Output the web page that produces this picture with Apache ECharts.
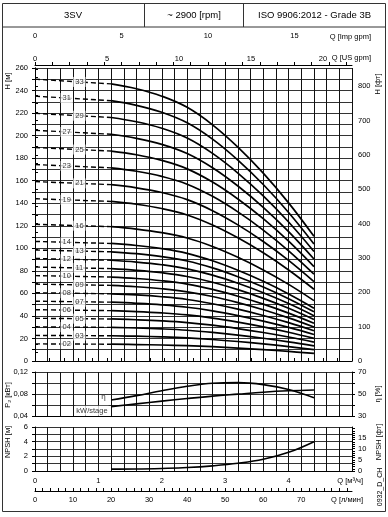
<!DOCTYPE html>
<html><head><meta charset="utf-8">
<script src="https://cdn.jsdelivr.net/npm/echarts@6/dist/echarts.min.js"></script>
<style>html,body{margin:0;padding:0;background:#fff}#c{width:388px;height:517px}</style>
</head><body><div id="c"></div>
<script>
// ---------------- data ----------------
const stageLabels = ['02','03','04','05','06','07','08','09','10','11','12','13','14','16','19','21','23','25','27','29','31','33'];
const labelQ = [0.5,0.7,0.5,0.7,0.5,0.7,0.5,0.7,0.5,0.7,0.5,0.7,0.5,0.7,0.5,0.7,0.5,0.7,0.5,0.7,0.5,0.7];
// Q [m3/h] points of the head curves; first segment (0 -> 1.2) is dashed
const headQ = [0, 1.2, 1.6, 2.0, 2.4, 2.8, 3.2, 3.6, 4.0, 4.4];
const headCurves = [
  [15.2, 14.9, 14.6, 14.2, 13.6, 12.7, 11.5, 10.1, 8.5, 6.7],
  [22.7, 22.4, 22.0, 21.4, 20.5, 19.1, 17.3, 15.2, 12.8, 10.1],
  [30.3, 29.8, 29.3, 28.5, 27.3, 25.4, 23.0, 20.2, 17.0, 13.4],
  [37.9, 37.3, 36.6, 35.6, 34.1, 31.8, 28.8, 25.3, 21.3, 16.8],
  [45.5, 44.7, 43.9, 42.7, 40.9, 38.1, 34.5, 30.3, 25.5, 20.1],
  [53.1, 52.2, 51.2, 49.8, 47.7, 44.5, 40.3, 35.4, 29.8, 23.5],
  [60.6, 59.6, 58.6, 57.0, 54.6, 50.8, 46.0, 40.4, 34.0, 26.8],
  [68.2, 67.1, 65.9, 64.1, 61.4, 57.2, 51.8, 45.5, 38.3, 30.2],
  [75.8, 74.5, 73.2, 71.2, 68.2, 63.5, 57.5, 50.5, 42.5, 33.5],
  [83.4, 82.0, 80.5, 78.3, 75.0, 69.9, 63.3, 55.6, 46.8, 36.9],
  [91.0, 89.4, 87.8, 85.4, 81.8, 76.2, 69.0, 60.6, 51.0, 40.2],
  [98.5, 96.9, 95.2, 92.6, 88.7, 82.6, 74.8, 65.7, 55.3, 43.6],
  [106.1, 104.3, 102.5, 99.7, 95.5, 88.9, 80.5, 70.7, 59.5, 46.9],
  [121.3, 119.2, 117.1, 113.9, 109.1, 101.6, 92.0, 80.8, 68.0, 53.6],
  [144.0, 141.6, 139.1, 135.3, 129.6, 120.7, 109.3, 96.0, 80.8, 63.7],
  [159.2, 156.5, 153.7, 149.5, 143.2, 133.4, 120.8, 106.1, 89.3, 70.4],
  [174.3, 171.4, 168.4, 163.8, 156.9, 146.1, 132.3, 116.2, 97.8, 77.1],
  [189.5, 186.3, 183.0, 178.0, 170.5, 158.8, 143.8, 126.3, 106.3, 83.8],
  [204.7, 201.2, 197.6, 192.2, 184.1, 171.5, 155.3, 136.4, 114.8, 90.5],
  [219.8, 216.1, 212.3, 206.5, 197.8, 184.2, 166.8, 146.5, 123.3, 97.2],
  [235.0, 231.0, 226.9, 220.7, 211.4, 196.9, 178.3, 156.6, 131.8, 103.9],
  [250.1, 245.9, 241.6, 235.0, 225.1, 209.6, 189.8, 166.7, 140.3, 110.6]
];
const perfQ = [1.2, 1.6, 2.0, 2.4, 2.8, 3.2, 3.6, 4.0, 4.4];
const etaValues = [44.5, 48.5, 53.0, 57.0, 59.8, 60.3, 58.5, 54.0, 46.5];
const powerValues = [0.057, 0.062, 0.067, 0.0718, 0.0762, 0.0798, 0.0833, 0.0858, 0.0873];
const npshValues = [0.25, 0.27, 0.35, 0.47, 0.70, 1.05, 1.60, 2.55, 4.0];

// tick labels
const hLabels = [0,20,40,60,80,100,120,140,160,180,200,220,240,260];
const ftLabels = [0,100,200,300,400,500,600,700,800];
const usLabels = [0,5,10,15,20];
const impLabels = [0,5,10,15];
const qLabels = [0,1,2,3,4];
const lpmLabels = [0,10,20,30,40,50,60,70];
const pLabels = [0.04,0.08,0.12];
const etaLabels = [30,50,70];
const npshLabels = [0,2,4,6];
const npshFtLabels = [0,5,10,15];

function range(a,b,s){const r=[];for(let v=a;v<=b+1e-9;v+=s)r.push(+v.toFixed(4));return r;}
const ftTicks = range(0,850,25);
const usTicks = range(0,22,1);
const impTicks = range(0,18,1);
const lpmTicks = range(0,82,2);
const etaTicks = range(30,70,10);
const npshFtTicks = range(0,19,1);

// ---------------- chart ----------------
const F = '"Liberation Sans", Arial, sans-serif';
const FS = 7.5;
const lbl = (extra) => Object.assign({color:'#000', fontSize:FS, fontFamily:F}, extra||{});
const axLine = {show:true, lineStyle:{color:'#000', width:1}};
const vGrid = {show:true, lineStyle:{color:'#111', width:1}};
const hGrid = {show:true, lineStyle:{color:'#333', width:1}};
const noTick = {show:false};

const G = {left:35, width:317};
const grids = [
  Object.assign({top:68, height:293, outerBoundsMode:'none'}, G),
  Object.assign({top:372, height:44, outerBoundsMode:'none'}, G),
  Object.assign({top:427, height:44, outerBoundsMode:'none'}, G),
  Object.assign({top:45, height:20, outerBoundsMode:'none'}, G),
  Object.assign({top:481, height:10, outerBoundsMode:'none'}, G)
];

const qAxis = (gi, extra) => Object.assign({type:'value', gridIndex:gi, min:0, max:5, interval:0.2, position:'bottom',
  axisLine:axLine, axisTick:noTick, axisLabel:{show:false}, splitLine:vGrid}, extra||{});

const xAxes = [
  qAxis(0),
  {type:'value', gridIndex:0, position:'top', min:0, max:22.0143, axisLine:axLine,
   axisTick:{show:true, customValues:usTicks, length:3, lineStyle:{color:'#000'}},
   axisLabel:lbl({customValues:usLabels, margin:5}), splitLine:{show:false}},
  qAxis(1),
  qAxis(2, {axisLabel:lbl({customValues:qLabels, margin:6})}),
  {type:'value', gridIndex:3, position:'top', min:0, max:18.3306, axisLine:axLine,
   axisTick:{show:true, customValues:impTicks, length:3, lineStyle:{color:'#000'}},
   axisLabel:lbl({customValues:impLabels, margin:5}), splitLine:{show:false}},
  {type:'value', gridIndex:4, position:'bottom', min:0, max:83.333, axisLine:axLine,
   axisTick:{show:true, inside:true, customValues:lpmTicks, length:3, lineStyle:{color:'#000'}},
   axisLabel:lbl({customValues:lpmLabels, margin:5}), splitLine:{show:false}}
];

const yAxes = [
  {type:'value', gridIndex:0, position:'left', min:0, max:260, interval:10, axisLine:axLine,
   axisTick:{show:true, length:3, lineStyle:{color:'#000'}},
   axisLabel:lbl({customValues:hLabels, margin:7}), splitLine:hGrid},
  {type:'value', gridIndex:0, position:'right', min:0, max:853.02, axisLine:axLine,
   axisTick:{show:true, customValues:ftTicks, length:3, lineStyle:{color:'#000'}},
   axisLabel:lbl({customValues:ftLabels, margin:6}), splitLine:{show:false}},
  {type:'value', gridIndex:1, position:'left', min:0.04, max:0.12, interval:0.02, axisLine:axLine,
   axisTick:{show:true, length:3, lineStyle:{color:'#000'}},
   axisLabel:lbl({customValues:pLabels, margin:7, formatter:v=>v.toFixed(2).replace('.',',')}), splitLine:hGrid},
  {type:'value', gridIndex:1, position:'right', min:30, max:70, axisLine:axLine,
   axisTick:{show:true, customValues:etaTicks, length:3, lineStyle:{color:'#000'}},
   axisLabel:lbl({customValues:etaLabels, margin:6}), splitLine:{show:false}},
  {type:'value', gridIndex:2, position:'left', min:0, max:6, interval:1, axisLine:axLine,
   axisTick:{show:true, length:3, lineStyle:{color:'#000'}},
   axisLabel:lbl({customValues:npshLabels, margin:7}), splitLine:hGrid},
  {type:'value', gridIndex:2, position:'right', min:0, max:19.685, axisLine:axLine,
   axisTick:{show:true, customValues:npshFtTicks, length:3, lineStyle:{color:'#000'}},
   axisLabel:lbl({customValues:npshFtLabels, margin:6}), splitLine:{show:false}},
  {type:'value', gridIndex:3, show:false, min:0, max:1},
  {type:'value', gridIndex:4, show:false, min:0, max:1}
];

const series = [];
headCurves.forEach((h, i) => {
  series.push({type:'line', xAxisIndex:0, yAxisIndex:0, silent:true, symbol:'none',
    data:[[headQ[0], h[0]], [headQ[1], h[1]]],
    lineStyle:{color:'#000', width:1.4, type:[5,3]}, z:3});
  series.push({type:'line', xAxisIndex:0, yAxisIndex:0, silent:true, symbol:'none', smooth:0.4,
    data:headQ.slice(1).map((q, j) => [q, h[j+1]]),
    lineStyle:{color:'#000', width:1.7}, z:3});
});
// stage labels placed on the dashed segment
series.push({type:'scatter', xAxisIndex:0, yAxisIndex:0, silent:true, symbolSize:1, z:5,
  itemStyle:{color:'rgba(0,0,0,0)'},
  data: headCurves.map((h, i) => [labelQ[i], h[0] + (h[1]-h[0]) * (labelQ[i]-headQ[0]) / (headQ[1]-headQ[0])]),
  label:{show:true, position:'inside', formatter:p => stageLabels[p.dataIndex], color:'#000', fontSize:FS, fontFamily:F,
    backgroundColor:'#fff', padding:[1,2,1,2]}});

// performance
series.push({type:'line', xAxisIndex:2, yAxisIndex:3, silent:true, symbol:'none', smooth:0.4,
  data: perfQ.map((q,i)=>[q, etaValues[i]]), lineStyle:{color:'#000', width:1.6}});
series.push({type:'line', xAxisIndex:2, yAxisIndex:2, silent:true, symbol:'none', smooth:0.4,
  data: perfQ.map((q,i)=>[q, powerValues[i]]), lineStyle:{color:'#000', width:1.6}});
series.push({type:'scatter', xAxisIndex:2, yAxisIndex:3, silent:true, symbolSize:1, itemStyle:{color:'rgba(0,0,0,0)'}, z:5,
  data:[[perfQ[0], etaValues[0]]],
  label:{show:true, position:'left', distance:5, offset:[0,-3], formatter:'η', color:'#000', fontSize:FS+0.5, fontFamily:F}});
series.push({type:'scatter', xAxisIndex:2, yAxisIndex:2, silent:true, symbolSize:1, itemStyle:{color:'rgba(0,0,0,0)'}, z:5,
  data:[[perfQ[0], powerValues[0]]],
  label:{show:true, position:'left', distance:2, offset:[0,4], formatter:'kW/stage', color:'#000', fontSize:FS, fontFamily:F,
    backgroundColor:'#fff', padding:[1,1,1,1]}});
series.push({type:'line', xAxisIndex:3, yAxisIndex:4, silent:true, symbol:'none', smooth:0.4,
  data: perfQ.map((q,i)=>[q, npshValues[i]]), lineStyle:{color:'#000', width:1.6}});

const txt = (text, x, y, opts) => Object.assign({type:'text', x:x, y:y, silent:true, z:100,
  style:Object.assign({text:text, fill:'#000', font:FS+'px '+F, align:'center', verticalAlign:'middle'}, (opts&&opts.style)||{})},
  opts&&opts.rotation!==undefined ? {rotation:opts.rotation} : {});
const R = Math.PI/2;
const graphic = [
  {type:'rect', shape:{x:2.5, y:3.5, width:383, height:508}, style:{fill:'none', stroke:'#333', lineWidth:1}, silent:true},
  {type:'line', shape:{x1:2.5, y1:27, x2:385.5, y2:27}, style:{stroke:'#333', lineWidth:1}, silent:true},
  {type:'line', shape:{x1:144.5, y1:3.5, x2:144.5, y2:27}, style:{stroke:'#333', lineWidth:1}, silent:true},
  {type:'line', shape:{x1:243.5, y1:3.5, x2:243.5, y2:27}, style:{stroke:'#333', lineWidth:1}, silent:true},
  txt('3SV', 73, 15.5, {style:{font:'9.5px '+F}}),
  txt('~ 2900 [rpm]', 194, 15.5, {style:{font:'9.5px '+F}}),
  txt('ISO 9906:2012 - Grade 3B', 314.5, 15.5, {style:{font:'9.5px '+F}}),
  txt('Q [Imp gpm]', 371, 36.5, {style:{align:'right'}}),
  txt('Q [US gpm]', 371, 58, {style:{align:'right'}}),
  txt('Q [м³/ч]', 363, 481, {style:{align:'right'}}),
  txt('Q [л/мин]', 363, 500, {style:{align:'right'}}),
  txt('H [м]', 8, 81, {rotation:R}),
  txt('H [фт]', 378, 84, {rotation:R}),
  txt('P₂ [кВт]', 8, 395, {rotation:R}),
  txt('η [%]', 378, 394, {rotation:R}),
  txt('NPSH [м]', 8, 442, {rotation:R}),
  txt('NPSH [фт]', 379, 442, {rotation:R}),
  txt('0932_D_CH', 380, 487, {rotation:R, style:{font:'7px '+F}})
];

const chart = echarts.init(document.getElementById('c'), null, {renderer:'canvas'});
chart.setOption({
  animation:false,
  backgroundColor:'#fff',
  textStyle:{fontFamily:F},
  grid:grids, xAxis:xAxes, yAxis:yAxes, series:series, graphic:graphic
});
</script></body></html>
